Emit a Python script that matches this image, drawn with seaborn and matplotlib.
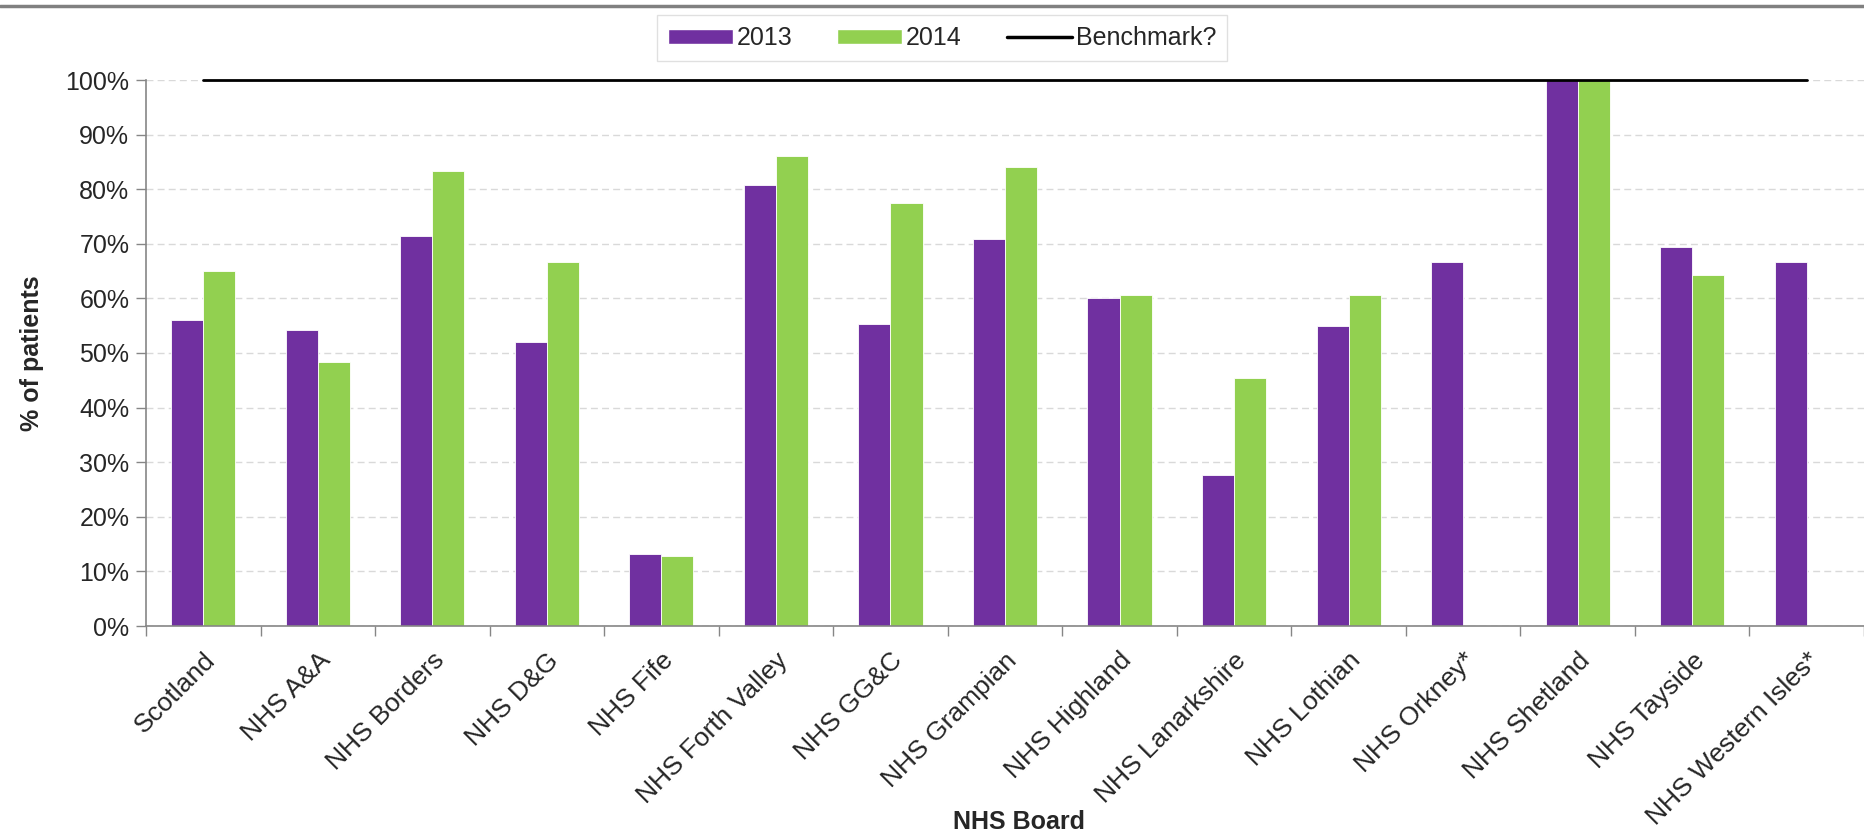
import numpy as np
import pandas as pd
import seaborn as sns
import matplotlib
matplotlib.use('Agg')
from matplotlib import pyplot as plt
from matplotlib.lines import Line2D
from matplotlib.patches import Patch
from matplotlib.ticker import FuncFormatter, FixedLocator

# 数据
boards = ['Scotland', 'NHS A&A', 'NHS Borders', 'NHS D&G', 'NHS Fife',
          'NHS Forth Valley', 'NHS GG&C', 'NHS Grampian', 'NHS Highland',
          'NHS Lanarkshire', 'NHS Lothian', 'NHS Orkney*', 'NHS Shetland',
          'NHS Tayside', 'NHS Western Isles*']
pct_2013 = [56.0, 54.2, 71.5, 52.0, 13.1, 80.8, 55.4, 70.8, 60.0,
            27.6, 54.9, 66.7, 100.0, 69.5, 66.7]
pct_2014 = [65.1, 48.4, 83.3, 66.7, 12.9, 86.1, 77.4, 84.1, 60.6,
            45.5, 60.6, np.nan, 100.0, 64.3, np.nan]
benchmark = [100, 100, 100, 100, 100, 100, 100, 100, 100, 100, 100, 100, 100, 100, 100]
years = ['2013', '2014']
colors = ['#7030A0', '#92D050']

df = pd.concat([
    pd.DataFrame({'board': boards, 'pct': pct_2013, 'year': years[0]}),
    pd.DataFrame({'board': boards, 'pct': pct_2014, 'year': years[1]}),
], ignore_index=True)

sns.set_style('white')
plt.rcParams['font.family'] = ['Liberation Sans', 'DejaVu Sans']

fig = plt.figure(figsize=(18.64, 8.33), dpi=100)
ax = fig.add_axes([146 / 1864, 1 - 626 / 833, 1 - 146 / 1864, (626 - 80) / 833])

sns.barplot(data=df, x='board', y='pct', hue='year', order=boards, hue_order=years,
            palette=colors, saturation=1, width=0.56, edgecolor='white', linewidth=0.6,
            ax=ax, legend=False)

# 基准线
ax.plot(np.arange(len(boards)), benchmark, color='black', lw=2, clip_on=False, zorder=5)

ax.set_ylim(0, 100)
ax.set_xlim(-0.5, len(boards) - 0.55)
ax.yaxis.set_major_locator(FixedLocator(np.arange(0, 101, 10)))
ax.yaxis.set_major_formatter(FuncFormatter(lambda v, p: f'{v:.0f}%'))
ax.grid(axis='y', color='#d9d9d9', linestyle=(0, (5, 3)), linewidth=1)
ax.set_axisbelow(True)

# x 轴刻度线在类别之间
ax.set_xticks(np.arange(len(boards)))
ax.set_xticklabels(boards, rotation=45, ha='right', rotation_mode='anchor', fontsize=19)
ax.set_xticks(np.arange(len(boards) + 1) - 0.5, minor=True)
ax.tick_params(axis='x', which='major', length=0, pad=16)
ax.tick_params(axis='x', which='minor', length=7, color='#868686', width=1, direction='out', bottom=True)
ax.tick_params(axis='y', length=7, color='#868686', width=1, direction='out', left=True, labelsize=18, pad=5)

for s in ['top', 'right']:
    ax.spines[s].set_visible(False)
for s in ['left', 'bottom']:
    ax.spines[s].set_color('#868686')
    ax.spines[s].set_linewidth(1.2)

ax.set_ylabel('% of patients', fontsize=18, fontweight='bold')
ax.yaxis.set_label_coords(-(146 - 44) / (1864 - 146), 0.5)
ax.set_xlabel('NHS Board', fontsize=18, fontweight='bold')
ax.xaxis.set_label_coords((1019 - 146) / (1864 - 146), -(810 - 626) / (626 - 80))

# 图例
handles = [Patch(facecolor=colors[0], label='2013'),
           Patch(facecolor=colors[1], label='2014'),
           Line2D([0], [0], color='black', lw=2.5, label='Benchmark?')]
leg = fig.legend(handles=handles, loc='center', bbox_to_anchor=(942 / 1864, 1 - 38 / 833),
                 ncol=3, frameon=True, fancybox=False, fontsize=18, handlelength=2.6,
                 handleheight=0.55, handletextpad=0.15, columnspacing=1.8, borderpad=0.45)
leg.get_frame().set_edgecolor('#d9d9d9')
leg.get_frame().set_linewidth(1)

# 顶部灰线
fig.add_artist(Line2D([0, 1], [1 - 6 / 833, 1 - 6 / 833], color='#808080', lw=2.5,
                      transform=fig.transFigure))

fig.savefig('out.png', dpi=100)
